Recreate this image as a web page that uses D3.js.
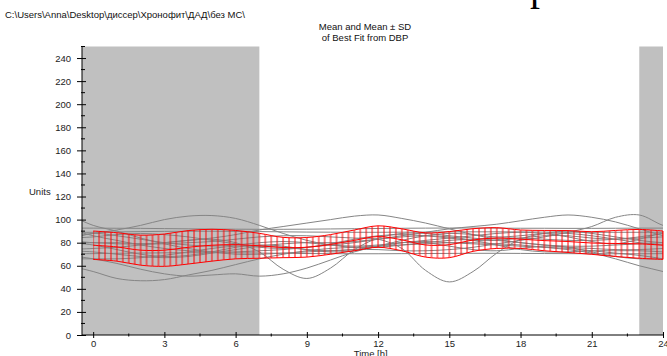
<!DOCTYPE html>
<html>
<head>
<meta charset="utf-8">
<script src="https://cdn.jsdelivr.net/npm/d3@7"></script>
<style>
  body { margin: 0; background: #fff; }
  svg { display: block; font-family: "Liberation Sans", Arial, sans-serif; }
  .axis text { font-size: 9.5px; fill: #222; }
  .axis line, .axis-line { stroke: #000; stroke-width: 1; }
</style>
</head>
<body>
<svg id="cosinor"></svg>
<script>
// time of day, hours
const hours = [0, 1, 2, 3, 4, 5, 6, 7, 8, 9, 10, 11, 12, 13, 14, 15, 16, 17, 18, 19, 20, 21, 22, 23, 24];

// mean of best fits and its SD (DBP), hourly
const meanDBP = [77.8, 76.3, 73.5, 73.5, 76.0, 77.8, 78.3, 77.3, 75.8, 76.0, 78.5, 82.0, 85.3,
  82.5, 78.0, 78.3, 82.3, 84.0, 83.0, 81.8, 81.0, 79.7, 79.3, 79.0, 77.8];
const sdDBP = [12.3, 12.3, 13.0, 14.0, 14.5, 13.8, 12.3, 10.8, 8.8, 8.5, 8.5, 9.0, 9.3,
  9.5, 10.5, 11.3, 9.8, 9.0, 8.0, 8.8, 9.5, 9.8, 11.3, 12.5, 12.3];

// individual best fits, hourly values for 0..23 h (24 h periodic)
const fit01 = [92.6, 92.5, 92.4, 92.2, 92.0, 91.8, 91.7, 91.6, 91.6, 91.7, 91.9, 92.1, 92.3, 92.5, 92.6, 92.7, 92.7, 92.6, 92.5, 92.5, 92.4, 92.4, 92.5, 92.6];
const fit02 = [89.0, 89.3, 89.6, 89.8, 89.9, 89.9, 89.8, 89.6, 89.4, 89.2, 89.1, 89.0, 89.0, 89.1, 89.2, 89.3, 89.4, 89.4, 89.3, 89.2, 89.1, 89.0, 89.0, 89.0];
const fit03 = [70.5, 70.8, 71.0, 71.2, 71.3, 71.3, 71.2, 71.0, 70.8, 70.6, 70.5, 70.4, 70.4, 70.5, 70.6, 70.7, 70.8, 70.8, 70.7, 70.6, 70.5, 70.4, 70.4, 70.4];
const fit04 = [88, 91, 95, 100, 103, 103.5, 101, 95, 88, 82, 78, 76, 76, 78, 80, 82, 83, 84, 84, 83, 82, 82, 83, 85];
const fit05 = [80, 79, 79, 80, 82, 84, 87, 91, 94, 97, 100, 103, 104, 101, 97, 92, 87, 83, 80, 78, 77, 77, 78, 79];
const fit06 = [86, 82, 78, 75, 73, 72, 72, 73, 74, 76, 78, 80, 83, 86, 89, 92, 94, 96, 99, 102, 104, 102, 98, 92];
const fit07 = [95, 90, 84, 79, 75, 72, 70, 70, 71, 72, 73, 74, 74, 73, 73, 74, 76, 79, 82, 85, 89, 94, 102, 104];
const fit08 = [80, 80, 79, 79, 80, 81, 83, 85, 86, 86, 85, 84, 83, 75, 56, 46, 55, 71, 83, 88, 90, 88, 85, 82];
const fit09 = [75, 76, 78, 80, 82, 83, 80, 72, 57, 49, 58, 74, 84, 88, 88, 86, 84, 82, 80, 78, 76, 75, 74, 74];
const fit10 = [66, 62, 57, 53, 51, 52, 53, 51, 53, 58, 65, 72, 77, 80, 81, 80, 79, 78, 77, 76, 75, 73, 71, 69];
const fit11 = [55, 49, 47, 48, 52, 56, 61, 66, 70, 73, 75, 76, 77, 78, 79, 80, 80, 79, 78, 76, 74, 71, 66, 60];
const fit12 = [85, 87, 88, 87, 85, 82, 79, 76, 75, 76, 79, 83, 86, 87, 86, 84, 82, 82, 84, 86, 86, 84, 83, 84];
const fit13 = [72, 70, 68, 67, 68, 71, 74, 77, 79, 80, 80, 81, 83, 85, 86, 85, 82, 78, 74, 72, 72, 73, 73, 73];
const fit14 = [78, 74, 70, 68, 69, 72, 76, 78, 77, 74, 72, 73, 77, 82, 86, 88, 87, 85, 86, 88, 88, 86, 83, 80];
const fit15 = [88, 86, 83, 80, 78, 77, 78, 80, 81, 80, 78, 77, 78, 80, 82, 84, 86, 88, 89, 88, 85, 81, 79, 83];
const fit16 = [66, 66, 67, 69, 72, 75, 77, 77, 76, 74, 73, 74, 77, 80, 80, 77, 74, 73, 75, 77, 76, 72, 68, 66];
const fits = [fit01, fit02, fit03, fit04, fit05, fit06, fit07, fit08, fit09, fit10, fit11, fit12, fit13, fit14, fit15, fit16];

// lights off 23:00 - 07:00
const darkStart = 23;
const darkEnd = 7;

const xTicks = [0, 3, 6, 9, 12, 15, 18, 21, 24];
const xMinorTicks = [1.5, 4.5, 7.5, 10.5, 13.5, 16.5, 19.5, 22.5];
const yTicks = [0, 20, 40, 60, 80, 100, 120, 140, 160, 180, 200, 220, 240];
const yMinorTicks = [10, 30, 50, 70, 90, 110, 130, 150, 170, 190, 210, 230, 250];

const width = 667;
const height = 356;

const svg = d3.select('#cosinor')
  .attr('width', width)
  .attr('height', height);

const x = d3.scaleLinear()
  .domain([-0.47, 24])
  .range([82, 663]);
const y = d3.scaleLinear()
  .domain([0, 250])
  .range([335, 46.5]);

const [tMin, tMax] = x.domain();

const defs = svg.append('defs');
defs.append('clipPath')
  .attr('id', 'plot-clip')
  .append('rect')
    .attr('x', x(tMin))
    .attr('y', y(250))
    .attr('width', x(tMax) - x(tMin))
    .attr('height', y(0) - y(250));

// vertical SD bars every 15 min
const barStep = x(0.25) - x(0);
defs.append('pattern')
  .attr('id', 'sd-bars')
  .attr('patternUnits', 'userSpaceOnUse')
  .attr('x', x(0) - 1)
  .attr('y', 0)
  .attr('width', barStep)
  .attr('height', height)
  .append('line')
    .attr('x1', 1)
    .attr('x2', 1)
    .attr('y1', 0)
    .attr('y2', height)
    .attr('stroke', '#ff0000')
    .attr('stroke-width', 1);

// dark period shading
svg.append('g')
  .selectAll('rect')
  .data([[tMin, darkEnd], [darkStart, tMax]])
  .enter().append('rect')
    .attr('x', d => x(d[0]))
    .attr('y', y(250))
    .attr('width', d => x(d[1]) - x(d[0]))
    .attr('height', y(0) - y(250))
    .attr('fill', '#c0c0c0');

// individual fits
const line = d3.line()
  .x(d => x(d[0]))
  .y(d => y(d[1]))
  .curve(d3.curveCatmullRom.alpha(0.5));

const gFits = svg.append('g').attr('clip-path', 'url(#plot-clip)');
gFits.selectAll('path')
  .data(fits.map(f => {
    const pts = [[-1, f[23]]];
    f.forEach((v, i) => pts.push([hours[i], v]));
    pts.push([24, f[0]]);
    pts.push([25, f[1]]);
    return pts;
  }))
  .enter().append('path')
    .attr('d', line)
    .attr('fill', 'none')
    .attr('stroke', '#858585')
    .attr('stroke-width', 1);

// mean +- SD
const band = hours.map((t, i) => ({ t, m: meanDBP[i], s: sdDBP[i] }));
const curve = d3.curveCatmullRom.alpha(0.5);

svg.append('path')
  .datum(band)
  .attr('fill', 'url(#sd-bars)')
  .attr('d', d3.area()
    .x(d => x(d.t))
    .y0(d => y(d.m - d.s))
    .y1(d => y(d.m + d.s))
    .curve(curve));

const gMean = svg.append('g')
  .attr('fill', 'none')
  .attr('stroke', '#ff0000')
  .attr('stroke-width', 1);
gMean.append('path').datum(band)
  .attr('d', d3.line().x(d => x(d.t)).y(d => y(d.m + d.s)).curve(curve));
gMean.append('path').datum(band)
  .attr('d', d3.line().x(d => x(d.t)).y(d => y(d.m - d.s)).curve(curve));
gMean.append('path').datum(band)
  .attr('d', d3.line().x(d => x(d.t)).y(d => y(d.m)).curve(curve));
gMean.append('line')
  .attr('x1', x(24)).attr('x2', x(24))
  .attr('y1', y(meanDBP[24] + sdDBP[24])).attr('y2', y(meanDBP[24] - sdDBP[24]));

// X axis
const gx = svg.append('g')
  .attr('class', 'axis')
  .attr('transform', `translate(0, ${y(0)})`)
  .call(d3.axisBottom(x).tickValues(xTicks).tickSize(3).tickFormat(d3.format('d')));
gx.select('.domain').remove();
gx.selectAll('.tick line').attr('y1', -3).attr('y2', 3);
gx.selectAll('.tick text').attr('y', 12).attr('dy', null);
gx.selectAll('line.minor')
  .data(xMinorTicks)
  .enter().append('line')
    .attr('class', 'minor')
    .attr('x1', d => x(d)).attr('x2', d => x(d))
    .attr('y1', -1.5).attr('y2', 1.5);
gx.append('line')
  .attr('class', 'axis-line')
  .attr('x1', x(tMin)).attr('x2', x(tMax))
  .attr('y1', 0).attr('y2', 0);

// Y axis
const gy = svg.append('g')
  .attr('class', 'axis')
  .attr('transform', `translate(${x(tMin)}, 0)`)
  .call(d3.axisLeft(y).tickValues(yTicks).tickSize(5).tickPadding(6));
gy.select('.domain').remove();
gy.selectAll('.tick line').attr('x1', -5).attr('x2', 4);
gy.selectAll('line.minor')
  .data(yMinorTicks)
  .enter().append('line')
    .attr('class', 'minor')
    .attr('y1', d => y(d)).attr('y2', d => y(d))
    .attr('x1', -1).attr('x2', 3);
gy.append('line')
  .attr('class', 'axis-line')
  .attr('x1', 0).attr('x2', 0)
  .attr('y1', y(0)).attr('y2', y(250));

// labels
svg.append('text')
  .attr('x', 29)
  .attr('y', 195)
  .attr('font-size', 9.5)
  .attr('fill', '#222')
  .text('Units');
svg.append('text')
  .attr('x', (x(12) + x(11.8)) / 2 - 5)
  .attr('y', 357)
  .attr('text-anchor', 'middle')
  .attr('font-size', 9.5)
  .attr('fill', '#222')
  .text('Time [h]');

svg.append('text')
  .attr('x', 5)
  .attr('y', 18)
  .attr('font-size', 9.5)
  .attr('fill', '#111')
  .text('C:\\Users\\Anna\\Desktop\\диссер\\Хронофит\\ДАД\\без МС\\');
svg.append('text')
  .attr('x', 365)
  .attr('y', 30)
  .attr('text-anchor', 'middle')
  .attr('font-size', 9.5)
  .attr('fill', '#111')
  .text('Mean and Mean ± SD');
svg.append('text')
  .attr('x', 365)
  .attr('y', 41)
  .attr('text-anchor', 'middle')
  .attr('font-size', 9.5)
  .attr('fill', '#111')
  .text('of Best Fit from DBP');

// page fragment above the chart
svg.append('text')
  .attr('x', 530)
  .attr('y', 0)
  .attr('font-family', '"Liberation Serif", serif')
  .attr('font-size', 40)
  .attr('fill', '#000')
  .text('р');
</script>
</body>
</html>
